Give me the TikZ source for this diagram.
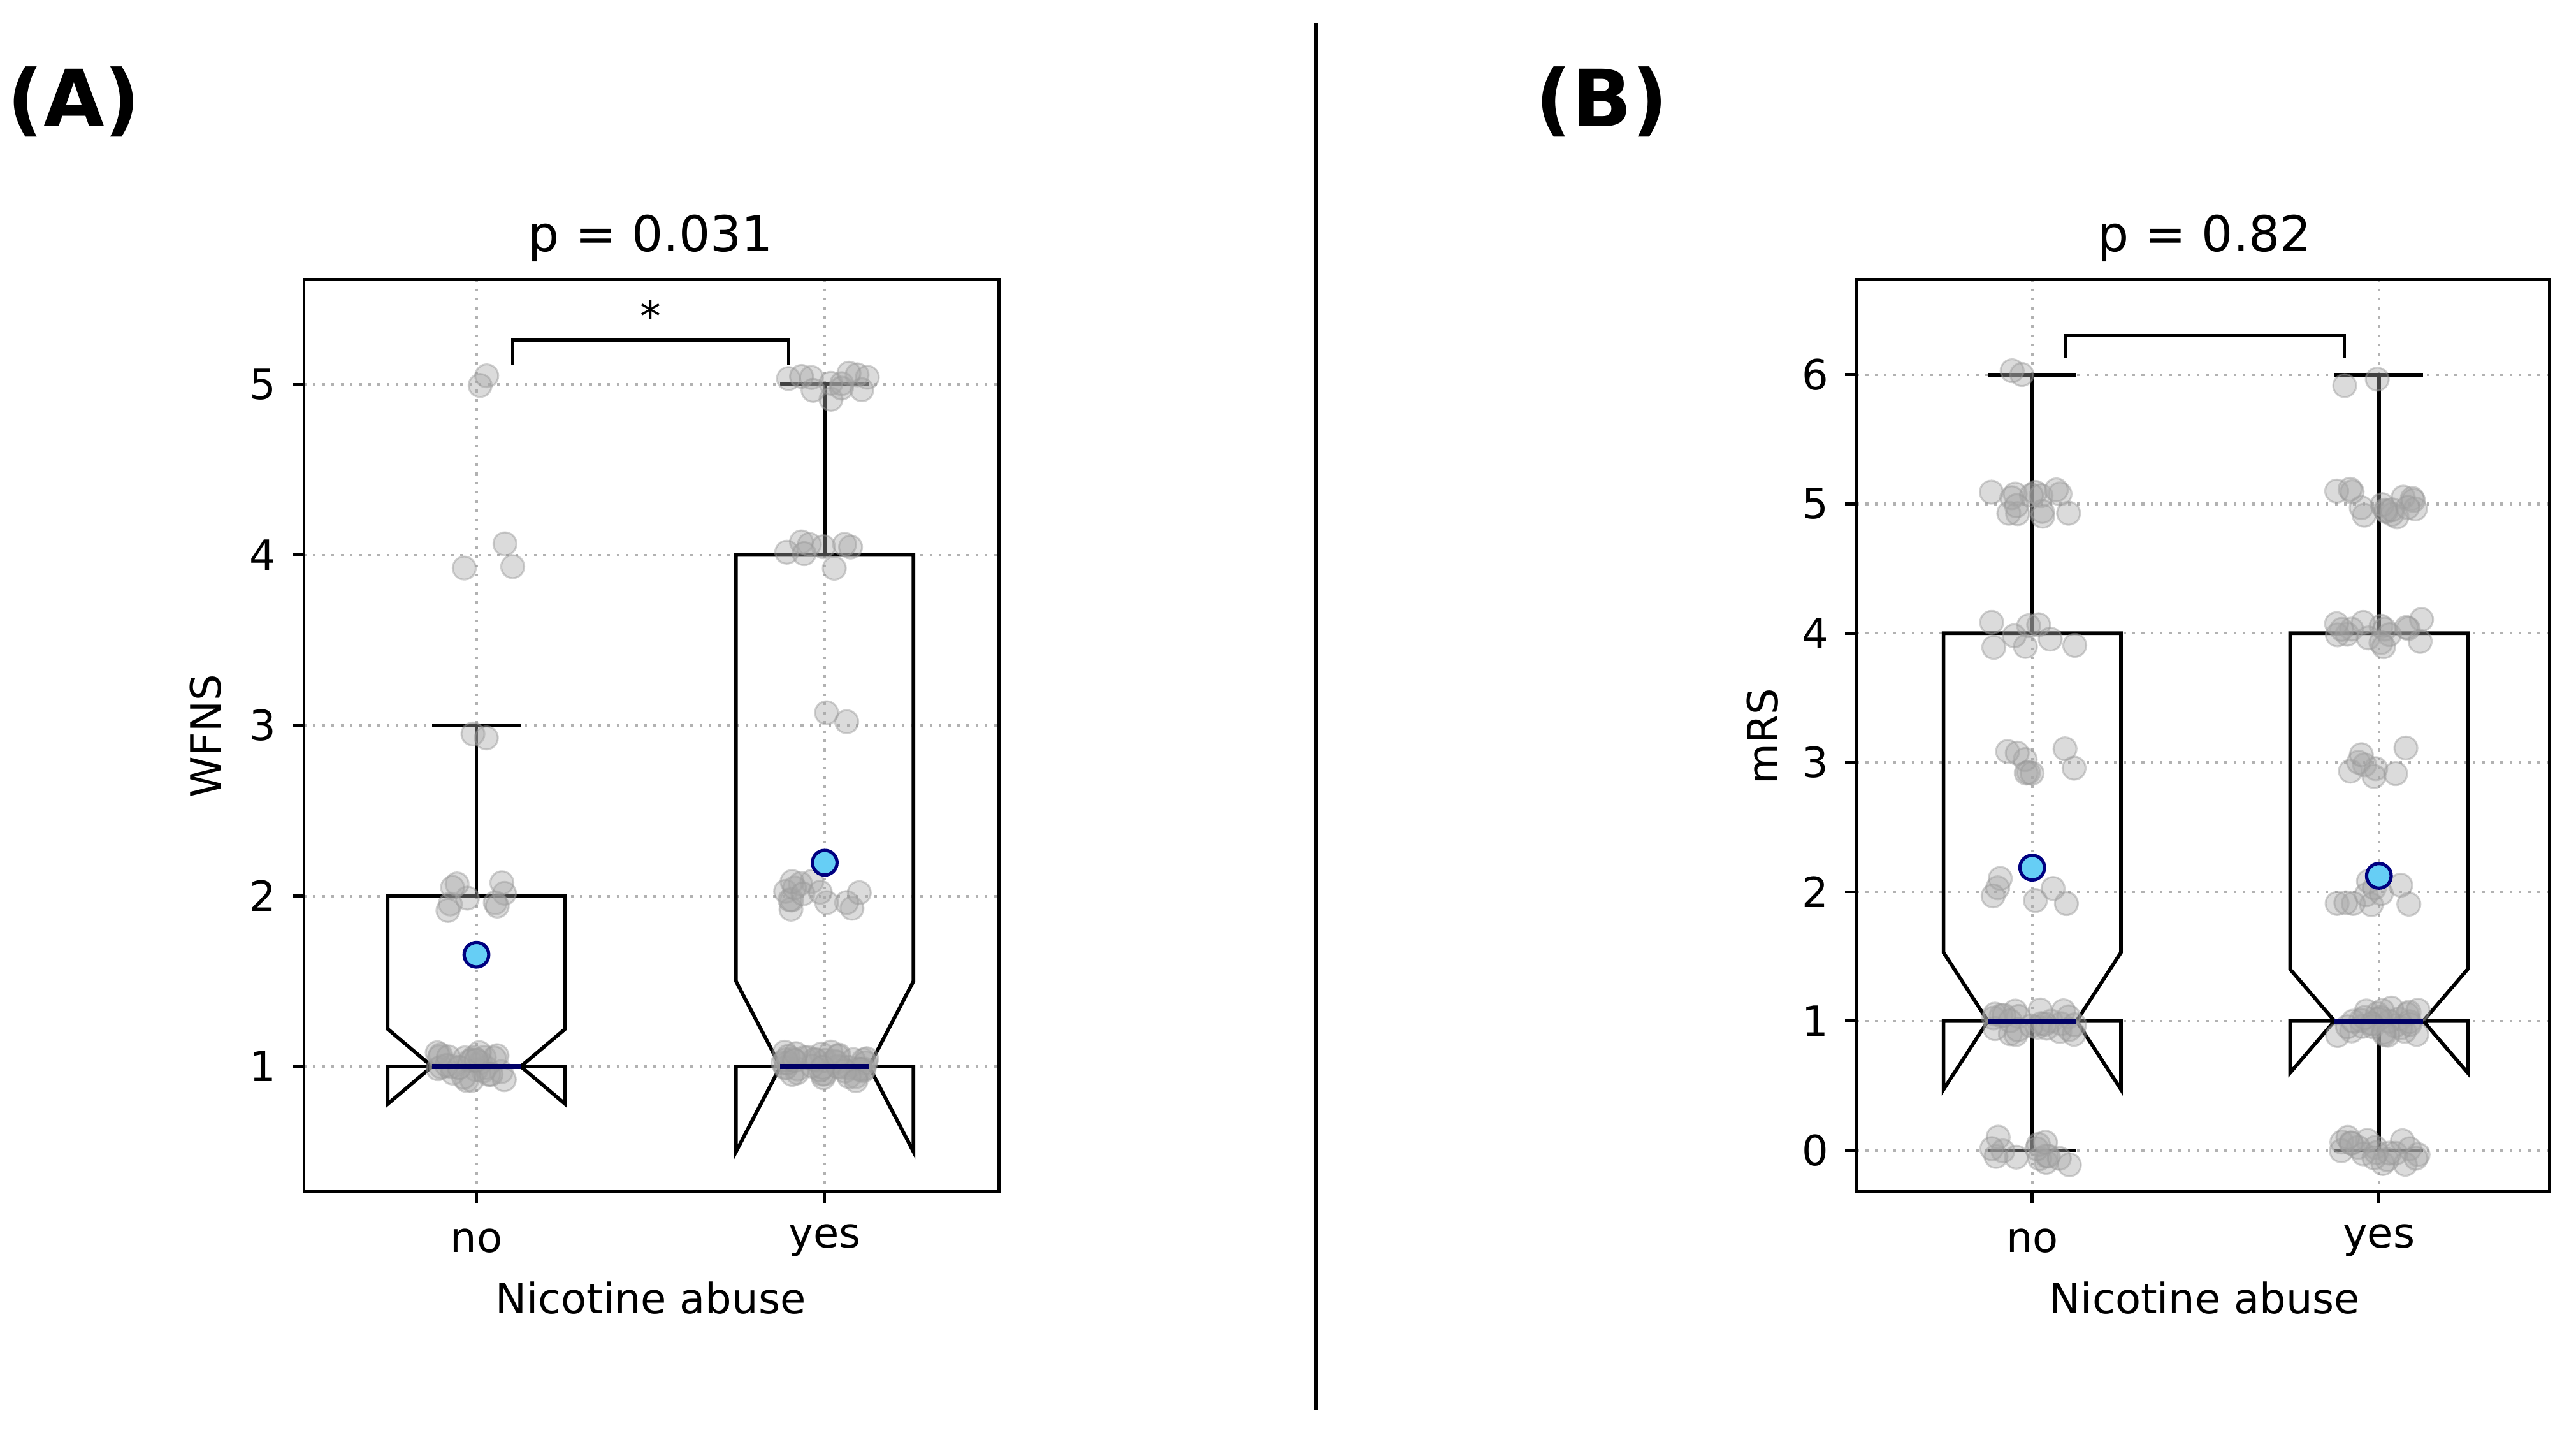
\documentclass[tikz,border=0pt]{standalone}
\usepackage{fontspec}
\setmainfont{DejaVu Sans}
\begin{document}
\begin{tikzpicture}[x=0.5pt,y=-0.5pt,
  grd/.style={gray!60,line width=0.8pt,dotted},
  ax/.style={black,line width=0.9pt},
  bx/.style={black,line width=1.1pt},
  pt/.style={fill=gray!70,fill opacity=0.4,draw=gray!80,draw opacity=0.45,line width=0.6pt},
  mn/.style={fill=cyan!60!white,draw=blue!50!black,line width=1pt},
  md/.style={blue!40!black,line width=1.6pt},
  tk/.style={font=\fontsize{12.7}{14}\selectfont},
  ttl/.style={font=\fontsize{15}{17}\selectfont}]
\useasboundingbox (0,0) rectangle (1568,872);
\pgfmathsetseed{42}
\newcommand\jit[5]{\foreach \i in {1,...,#3}{\pgfmathsetmacro\px{#1+26*rand}\pgfmathsetmacro\py{#4-(#2)*#5+9*rand}\fill[pt] (\px,\py) circle (7);}}
\newcommand\bxx[6]{% xc q3 nh nl y0 u
 \pgfmathsetmacro\yq{#5-(#2)*#6}\pgfmathsetmacro\yh{#5-(#3)*#6}\pgfmathsetmacro\yl{#5-(#4)*#6}\pgfmathsetmacro\ym{#5-#6}
 \draw[bx] (#1-54,\ym)--(#1-54,\yl)--(#1-27,\ym)--(#1-54,\yh)--(#1-54,\yq)--(#1+54,\yq)--(#1+54,\yh)--(#1+27,\ym)--(#1+54,\yl)--(#1+54,\ym)--cycle;}
\newcommand\whis[5]{% xc from to y0 u
 \draw[bx] (#1,#4-#2*#5)--(#1,#4-#3*#5) (#1-27,#4-#3*#5)--(#1+27,#4-#3*#5);}
% divider
\draw[line width=1.2pt] (801,14)--(801,858);
\node[font=\bfseries\fontsize{24}{28}\selectfont] (lA) at (45,62) {(A)};
\node[font=\bfseries\fontsize{24}{28}\selectfont] (lB) at (975,62) {(B)};
% ===== Panel A =====
\foreach \v in {1,...,5}{\draw[grd] (185,752.75-\v*103.75)--(608,752.75-\v*103.75);
 \draw[ax] (185,752.75-\v*103.75)--(178,752.75-\v*103.75);
 \node[tk,anchor=east] (ya\v) at (175,752.75-\v*103.75) {\v};}
\foreach \x in {290,502}{\draw[grd] (\x,170)--(\x,725); \draw[ax] (\x,725)--(\x,732);}
\whis{290}{2}{3}{752.75}{103.75}
\whis{502}{4}{5}{752.75}{103.75}
\bxx{290}{2}{1.22}{0.78}{752.75}{103.75}
\bxx{502}{4}{1.5}{0.5}{752.75}{103.75}
\jit{290}{5}{2}{752.75}{103.75}\jit{290}{4}{3}{752.75}{103.75}\jit{290}{3}{2}{752.75}{103.75}
\jit{290}{2}{9}{752.75}{103.75}\jit{290}{1}{30}{752.75}{103.75}
\jit{502}{5}{12}{752.75}{103.75}\jit{502}{4}{8}{752.75}{103.75}\jit{502}{3}{2}{752.75}{103.75}
\jit{502}{2}{14}{752.75}{103.75}\jit{502}{1}{45}{752.75}{103.75}
\draw[md] (263,649)--(317,649);
\draw[md] (475,649)--(529,649);
\draw[mn] (290,581) circle (7.5);
\draw[mn] (502,525) circle (7.5);
\draw[ax] (185,170) rectangle (608,725);
\node[tk] (xa1) at (290,755) {no};
\node[tk] (xa2) at (502,755) {yes};
\node[tk] (xta) at (396,790) {Nicotine abuse};
\node[tk,rotate=90] (yta) at (125,448) {WFNS};
\node[ttl] (ta) at (396,145) {p = 0.031};
\draw[line width=0.9pt] (312,222)--(312,207)--(480,207)--(480,222);
\node[tk] (st) at (396,192) {*};
% ===== Panel B =====
\foreach \v in {0,...,6}{\draw[grd] (1130,700-\v*78.67)--(1552,700-\v*78.67);
 \draw[ax] (1130,700-\v*78.67)--(1123,700-\v*78.67);
 \node[tk,anchor=east] (yb\v) at (1120,700-\v*78.67) {\v};}
\foreach \x in {1237,1448}{\draw[grd] (\x,170)--(\x,725); \draw[ax] (\x,725)--(\x,732);}
\whis{1237}{4}{6}{700}{78.67}\whis{1237}{1}{0}{700}{78.67}
\whis{1448}{4}{6}{700}{78.67}\whis{1448}{1}{0}{700}{78.67}
\bxx{1237}{4}{1.53}{0.47}{700}{78.67}
\bxx{1448}{4}{1.4}{0.6}{700}{78.67}
\jit{1237}{6}{2}{700}{78.67}\jit{1237}{5}{14}{700}{78.67}\jit{1237}{4}{8}{700}{78.67}
\jit{1237}{3}{8}{700}{78.67}\jit{1237}{2}{6}{700}{78.67}\jit{1237}{1}{25}{700}{78.67}\jit{1237}{0}{14}{700}{78.67}
\jit{1448}{6}{2}{700}{78.67}\jit{1448}{5}{16}{700}{78.67}\jit{1448}{4}{16}{700}{78.67}
\jit{1448}{3}{8}{700}{78.67}\jit{1448}{2}{10}{700}{78.67}\jit{1448}{1}{30}{700}{78.67}\jit{1448}{0}{20}{700}{78.67}
\draw[md] (1210,621.33)--(1264,621.33);
\draw[md] (1421,621.33)--(1475,621.33);
\draw[mn] (1237,528) circle (7.5);
\draw[mn] (1448,533) circle (7.5);
\draw[ax] (1130,170) rectangle (1552,725);
\node[tk] (xb1) at (1237,755) {no};
\node[tk] (xb2) at (1448,755) {yes};
\node[tk] (xtb) at (1342,790) {Nicotine abuse};
\node[tk,rotate=90] (ytb) at (1073,448) {mRS};
\node[ttl] (tb) at (1342,145) {p = 0.82};
\draw[line width=0.9pt] (1257,218)--(1257,204)--(1427,204)--(1427,218);
\end{tikzpicture}
\end{document}
